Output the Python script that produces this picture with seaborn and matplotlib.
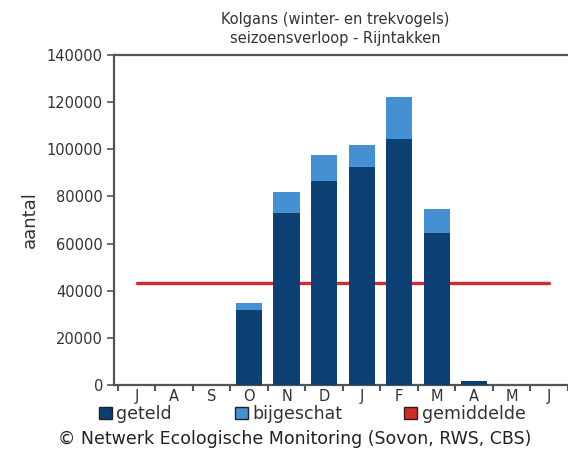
import matplotlib
matplotlib.use("Agg")
import matplotlib.pyplot as plt
import seaborn as sb
import numpy as np
import pandas as pd
from matplotlib.patches import Patch

months = ["J", "A", "S", "O", "N", "D", "J", "F", "M", "A", "M", "J"]
geteld = [0, 0, 0, 31800, 72800, 86500, 92600, 104200, 64600, 1500, 0, 0]
bijgeschat = [0, 0, 0, 3100, 9200, 11100, 9200, 18100, 9900, 300, 0, 0]
gemiddelde = 43100

dark = "#0c3f72"
light = "#4590d3"
red = "#d42a2a"

df = pd.DataFrame({"pos": range(len(months)), "geteld": geteld,
                   "totaal": np.array(geteld) + np.array(bijgeschat)})

sb.set_style("white")
plt.rcParams["font.family"] = ["DejaVu Sans"]

fig = plt.figure(figsize=(5.68, 4.51), dpi=100)
ax = fig.add_axes([114 / 568, 1 - 385 / 451, 1 - 114 / 568, 330 / 451])

ax.plot([0, len(months) - 1], [gemiddelde, gemiddelde], color=red, lw=2.4,
        zorder=1)
sb.barplot(data=df, x="pos", y="totaal", color=light, width=0.7,
           saturation=1, linewidth=0, ax=ax, zorder=2)
sb.barplot(data=df, x="pos", y="geteld", color=dark, width=0.7,
           saturation=1, linewidth=0, ax=ax, zorder=3)

ax.set_xlim(-0.6, 11.34)
ax.set_ylim(0, 140000)
ax.set_yticks(np.arange(0, 140001, 20000))
ax.set_yticklabels([str(v) for v in range(0, 140001, 20000)], fontsize=10.5,
                   color="#333333")
ax.set_xticks(range(len(months)))
ax.set_xticklabels(months, fontsize=10.5, color="#333333")
ax.set_xticks(np.arange(-0.5, 11.6, 1), minor=True)
ax.tick_params(axis="x", which="major", length=0, pad=3, bottom=True)
ax.tick_params(axis="x", which="minor", length=4, width=1.5, color="#555555",
               direction="out", bottom=True)
ax.tick_params(axis="y", length=5, width=1.2, color="#555555", direction="out",
               left=True, pad=3)
ax.set_xlabel("")
ax.set_ylabel("aantal", fontsize=13, color="#333333", labelpad=6)
for s in ["left", "bottom", "top"]:
    ax.spines[s].set_color("#555555")
    ax.spines[s].set_linewidth(1.6)
ax.spines["right"].set_visible(False)

fig.text(0.59, 0.936, "Kolgans (winter- en trekvogels)\nseizoensverloop - Rijntakken",
         ha="center", va="center", fontsize=10.5, color="#333333",
         linespacing=1.35)

handles = [Patch(facecolor=dark, edgecolor="#222222", label="geteld"),
           Patch(facecolor=light, edgecolor="#222222", label="bijgeschat"),
           Patch(facecolor=red, edgecolor="#222222", label="gemiddelde")]
fig.legend(handles=handles, loc="center", bbox_to_anchor=(0.55, 0.082),
           ncol=3, frameon=False, fontsize=12.5, handlelength=0.75,
           handleheight=0.75, handletextpad=0.25, columnspacing=3.6,
           labelcolor="#333333", borderpad=0.1)

fig.text(0.518, 0.027, "\u00a9 Netwerk Ecologische Monitoring (Sovon, RWS, CBS)",
         ha="center", va="center", fontsize=12.5, color="#222222")

plt.savefig("out.png", dpi=100)
